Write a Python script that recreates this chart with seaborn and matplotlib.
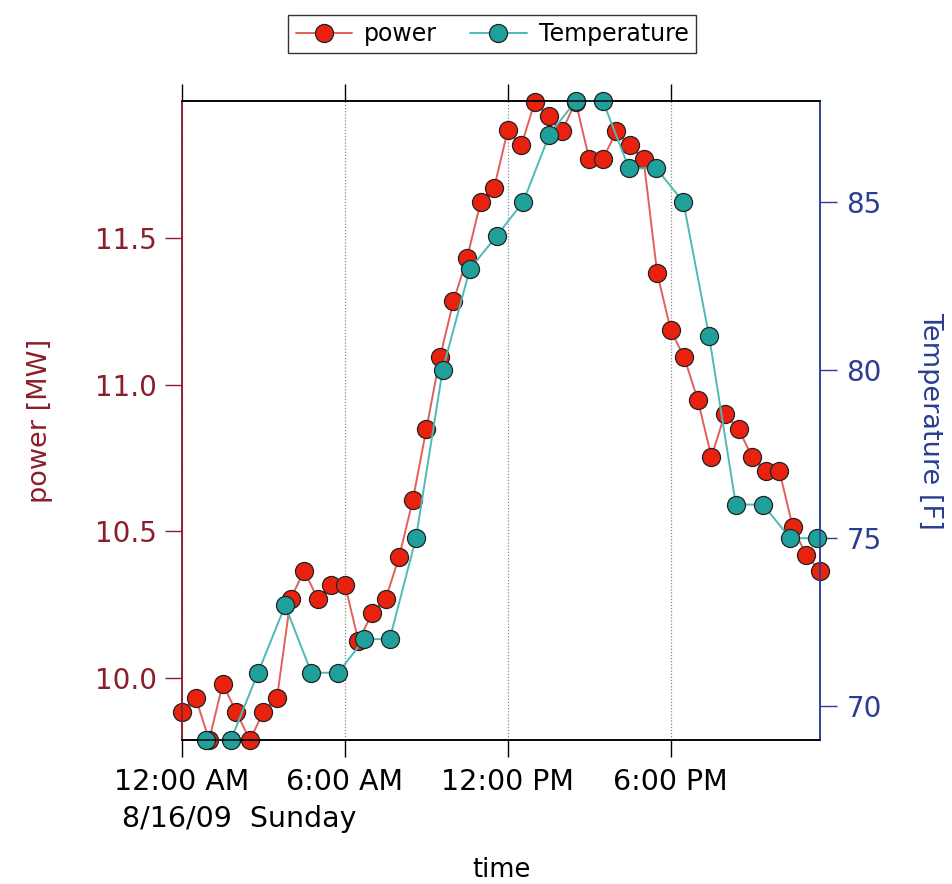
import matplotlib
matplotlib.use("Agg")
import matplotlib.pyplot as plt
import seaborn as sns
import pandas as pd

# power readings every 30 minutes, 8/16/09
power_start = "2009-08-16 00:00"
power_mw = [9.885, 9.934, 9.79, 9.981, 9.885, 9.79, 9.885, 9.934,
            10.27, 10.366, 10.27, 10.319, 10.319, 10.127, 10.221, 10.27,
            10.414, 10.606, 10.848, 11.092, 11.284, 11.43, 11.622, 11.67,
            11.866, 11.815, 11.963, 11.914, 11.862, 11.963, 11.767, 11.767,
            11.862, 11.815, 11.767, 11.381, 11.185, 11.092, 10.947, 10.754,
            10.9, 10.848, 10.754, 10.707, 10.707, 10.514, 10.418, 10.366]

# temperature observations (roughly hourly)
temp_times = ["00:54", "01:48", "02:48", "03:48", "04:46", "05:45",
              "06:43", "07:39", "08:37", "09:36", "10:36", "11:36",
              "12:34", "13:32", "14:30", "15:30", "16:28", "17:28",
              "18:28", "19:25", "20:24", "21:24", "22:24", "23:24"]
temp_f = [69, 69, 71, 73, 71, 71, 72, 72, 75, 80, 83, 84,
          85, 87, 88, 88, 86, 86, 85, 81, 76, 76, 75, 75]

tick_hours = ["00:00", "06:00", "12:00", "18:00"]
tick_labels = ["12:00 AM", "6:00 AM", "12:00 PM", "6:00 PM"]
date_label = "8/16/09  Sunday"

POWER_FILL = "#e8220f"
POWER_LINE = "#e2605a"
TEMP_FILL = "#1fa09b"
TEMP_LINE = "#4dbab5"
LEFT_COLOR = "#8b1e2a"
RIGHT_COLOR = "#2b3c92"


def build_frames():
    p = pd.DataFrame({
        "time": pd.date_range(power_start, periods=len(power_mw), freq="30min"),
        "power": power_mw,
    })
    t = pd.DataFrame({
        "time": pd.to_datetime(["2009-08-16 " + s for s in temp_times]),
        "temp": temp_f,
    })
    return p, t


def main():
    sns.set_style("ticks")
    plt.rcParams["font.family"] = ["DejaVu Sans"]
    plt.rcParams["text.color"] = "black"
    plt.rcParams["axes.labelcolor"] = "black"

    p, t = build_frames()

    fig = plt.figure(figsize=(9.52, 8.84), dpi=100)
    ax = fig.add_axes([182 / 952, 1 - 740 / 884, 638 / 952, 639 / 884])
    ax2 = ax.twinx()

    sns.lineplot(data=p, x="time", y="power", ax=ax, color=POWER_LINE, lw=1.4,
                 marker="o", markersize=13, markerfacecolor=POWER_FILL,
                 markeredgecolor="#222222", markeredgewidth=0.9, clip_on=False,
                 label="power", legend=False)
    sns.lineplot(data=t, x="time", y="temp", ax=ax2, color=TEMP_LINE, lw=1.4,
                 marker="o", markersize=13, markerfacecolor=TEMP_FILL,
                 markeredgecolor="#222222", markeredgewidth=0.9, clip_on=False,
                 label="Temperature", legend=False)

    x0 = pd.Timestamp(power_start)
    ax.set_xlim(x0, p["time"].iloc[-1])
    ax.set_ylim(9.79, 11.965)
    ax2.set_ylim(69, 88)

    ticks = pd.to_datetime(["2009-08-16 " + s for s in tick_hours])
    ax.set_xticks(ticks)
    ax.set_xticklabels(tick_labels)
    ax.set_yticks([10.0, 10.5, 11.0, 11.5])
    ax.yaxis.set_major_formatter(matplotlib.ticker.FormatStrFormatter("%.1f"))
    ax2.set_yticks([70, 75, 80, 85])

    for tk in ticks:
        ax.axvline(tk, color="#888888", lw=0.9, ls=(0, (1, 1.5)), zorder=0)

    # spines
    for a in (ax, ax2):
        for s in a.spines.values():
            s.set_linewidth(1.1)
        a.spines["top"].set_color("black")
        a.spines["bottom"].set_color("black")
        a.spines["left"].set_color(LEFT_COLOR)
        a.spines["right"].set_color(RIGHT_COLOR)

    ax.tick_params(axis="x", direction="out", length=12, width=1, top=True,
                   labelsize=20.5, pad=8, colors="black")
    ax.tick_params(axis="y", direction="out", length=12, width=1,
                   labelsize=20, pad=6, colors=LEFT_COLOR)
    ax2.tick_params(axis="y", direction="out", length=12, width=1,
                    labelsize=20, pad=7, colors=RIGHT_COLOR)

    ax.set_xlabel("time", fontsize=18.5, va="center")
    ax.xaxis.set_label_coords(0.5, -0.203)
    ax.set_ylabel("power [MW]", fontsize=19.5, color=LEFT_COLOR, va="center")
    ax.yaxis.set_label_coords(-0.2226, 0.5)
    ax2.set_ylabel("Temperature [F]", fontsize=19.5, color=RIGHT_COLOR,
                   rotation=270, va="center", ha="center")
    ax2.yaxis.set_label_coords(1.172, 0.5)

    fig.text(122 / 952, 1 - 819 / 884, date_label, fontsize=20.5,
             ha="left", va="center")

    h1, l1 = ax.get_legend_handles_labels()
    h2, l2 = ax2.get_legend_handles_labels()
    leg = fig.legend(h1 + h2, l1 + l2, loc="center", ncol=2,
                     bbox_to_anchor=(492 / 952, 1 - 34 / 884),
                     fontsize=17, frameon=True, fancybox=False,
                     handlelength=2.4, columnspacing=1.4, handletextpad=0.5,
                     borderpad=0.3)
    leg.get_frame().set_edgecolor("black")
    leg.get_frame().set_linewidth(1.0)

    fig.savefig("out.png", dpi=100)
    plt.close(fig)


if __name__ == "__main__":
    main()
